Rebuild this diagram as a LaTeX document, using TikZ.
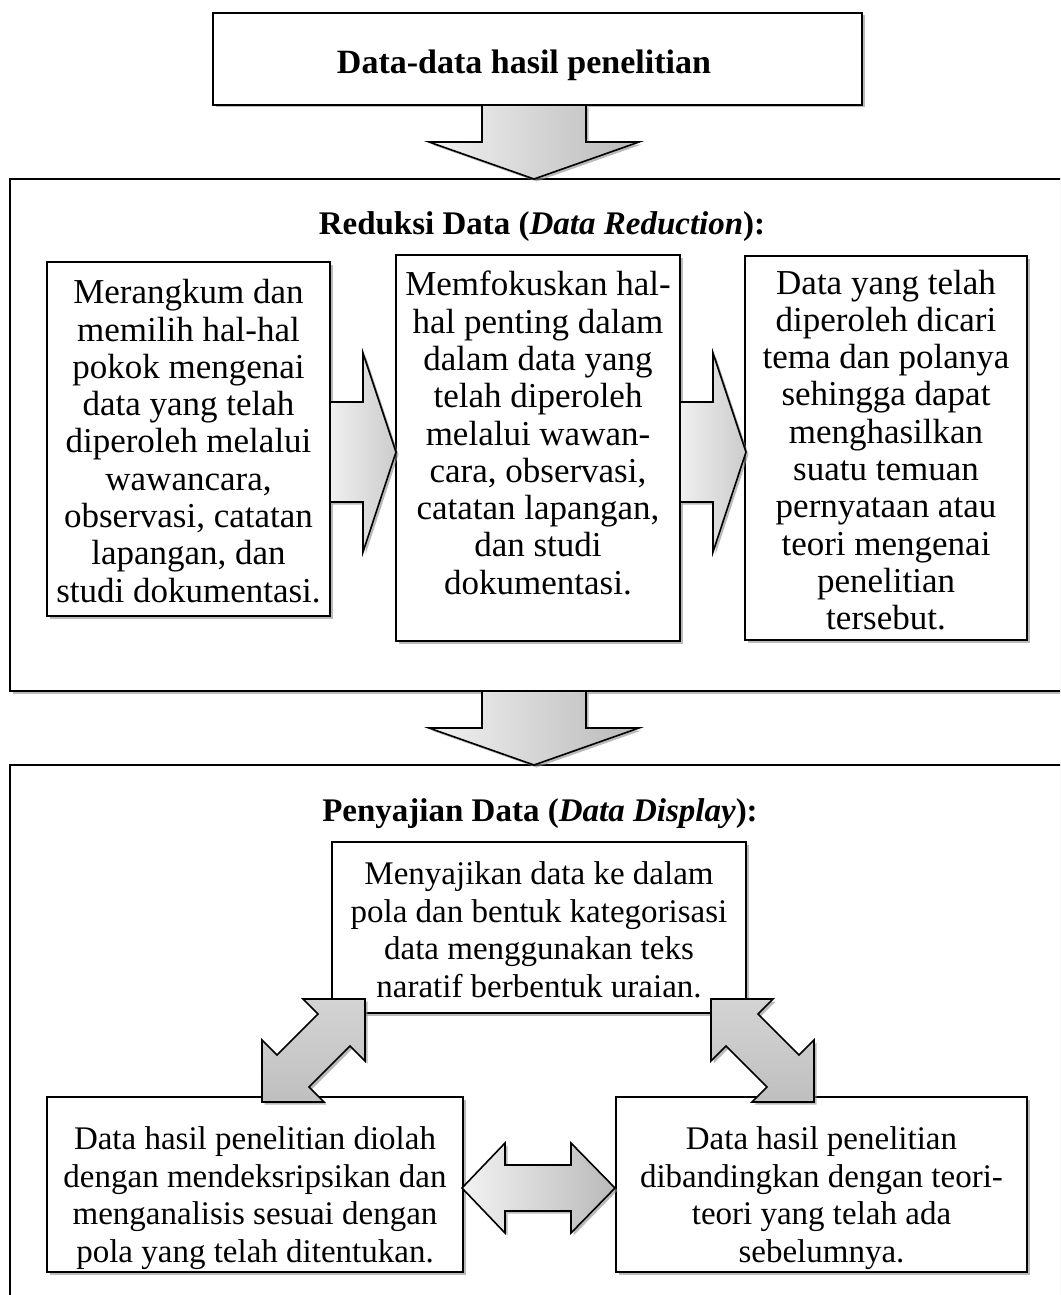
\documentclass[tikz,border=0pt]{standalone}
\usepackage{fontspec}
\setmainfont{Liberation Serif}
\usetikzlibrary{shadows}
\begin{document}
\begin{tikzpicture}[x=1pt,y=-1pt,
  txt/.style={font=\fontsize{35}{37.3}\selectfont, align=center, inner sep=0pt},
  txtsmall/.style={font=\fontsize{33}{37.5}\selectfont, align=center, inner sep=0pt},
  ttl/.style={font=\bfseries\fontsize{33}{37.3}\selectfont, inner sep=0pt},
  softshadow/.style={drop shadow={shadow xshift=2.5pt, shadow yshift=-2.5pt, fill=black!45, opacity=.6}},
  box/.style={draw, line width=2.2pt, fill=white, softshadow, inner sep=0pt},
  frame/.style={draw, line width=2pt, fill=white, softshadow},
  blockarrow/.style={draw, line width=1.6pt, line join=miter, softshadow},
  flowdown/.style={blockarrow, left color=gray!10, right color=gray!55},
  flowright/.style={blockarrow, left color=gray!12, right color=gray!40},
  flowdiag/.style={blockarrow, top color=gray!34, bottom color=gray!50},
  flowboth/.style={blockarrow, left color=gray!10, right color=gray!55}
]
\clip (0,0) rectangle (1060,1295);
\fill[white] (0,0) rectangle (1060,1295);

% outer frames of the two stages
\draw[frame] (10,179) rectangle (1070,691);
\draw[frame] (10,765) rectangle (1070,1310);

% source box
\node[box, minimum width=649pt, minimum height=92pt] (src) at (537.5,59) {};
\node[ttl, font=\bfseries\fontsize{34}{37.3}\selectfont] (srct) at (524,65) {Data-data hasil penelitian};

% arrows between stages
\path[flowdown] (482,105) -- (586,105) -- (586,142) -- (639,142) -- (534,179)
  -- (429,142) -- (482,142) -- cycle;
\path[flowdown] (482,691) -- (586,691) -- (586,728) -- (639,728) -- (534,765)
  -- (429,728) -- (482,728) -- cycle;

% stage 1: data reduction
\node[ttl] (redt) at (542,227) {Reduksi Data (\textit{Data Reduction}):};

\node[box, minimum width=283pt, minimum height=354pt] (lbox) at (188.5,439) {};
\node[box, minimum width=284pt, minimum height=386pt] (mbox) at (538,448) {};
\node[box, minimum width=282pt, minimum height=384pt] (rbox) at (886,448) {};

\node[txt] (ltxt) at (188.5,441) {Merangkum dan\\memilih hal-hal\\pokok mengenai\\data yang telah\\diperoleh melalui\\wawancara,\\observasi, catatan\\lapangan, dan\\studi dokumentasi.};
\node[txt] (mtxt) at (538,433) {Memfokuskan hal-\\hal penting dalam\\dalam data yang\\telah diperoleh\\melalui wawan-\\cara, observasi,\\catatan lapangan,\\dan studi\\dokumentasi.};
\node[txt] (rtxt) at (886,450) {Data yang telah\\diperoleh dicari\\tema dan polanya\\sehingga dapat\\menghasilkan\\suatu temuan\\pernyataan atau\\teori mengenai\\penelitian\\tersebut.};

\path[flowright] (330,402) -- (363,402) -- (363,353) -- (396,452) -- (363,552)
  -- (363,502) -- (330,502) -- cycle;
\path[flowright] (680,402) -- (713,402) -- (713,353) -- (746,452) -- (713,552)
  -- (713,502) -- (680,502) -- cycle;

% stage 2: data display
\node[ttl] (dispt) at (540,814) {Penyajian Data (\textit{Data Display}):};

\node[box, minimum width=414pt, minimum height=171pt] (dtop) at (539,927.5) {};
\node[txtsmall] (dtxt) at (539,930) {Menyajikan data ke dalam\\pola dan bentuk kategorisasi\\data menggunakan teks\\naratif berbentuk uraian.};

\node[box, minimum width=416pt, minimum height=175pt] (bl) at (255,1184.5) {};
\node[txtsmall] (bltxt) at (255,1198) {Data hasil penelitian diolah\\dengan mendeksripsikan dan\\menganalisis sesuai dengan\\pola yang telah ditentukan.};

\node[box, minimum width=411pt, minimum height=175pt] (br) at (821.5,1184.5) {};
\node[txtsmall] (brtxt) at (821.5,1198) {Data hasil penelitian\\dibandingkan dengan teori-\\teori yang telah ada\\sebelumnya.};

% two-way arrows
\path[flowdiag] (365,999) -- (303,999) -- (318,1014) -- (277,1055) -- (262,1040)
  -- (262,1102) -- (324,1102) -- (309,1087) -- (350,1046) -- (365,1061) -- cycle;
\path[flowdiag] (711,999) -- (773,999) -- (758,1014) -- (799,1055) -- (814,1040)
  -- (814,1102) -- (752,1102) -- (767,1087) -- (726,1046) -- (711,1061) -- cycle;
\path[flowboth] (462,1188) -- (505,1143) -- (505,1165) -- (571,1165) -- (571,1143)
  -- (615,1188) -- (571,1233) -- (571,1211) -- (505,1211) -- (505,1233) -- cycle;
\end{tikzpicture}
\end{document}
